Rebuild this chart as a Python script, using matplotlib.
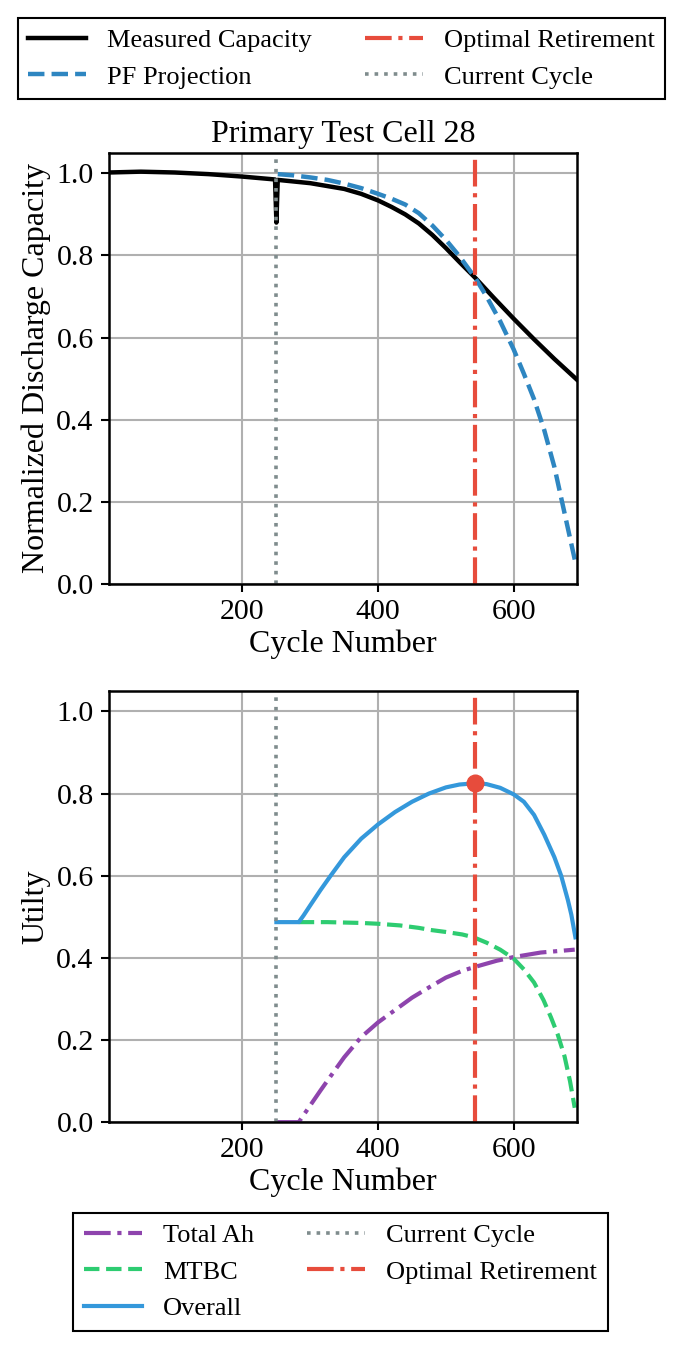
import matplotlib
matplotlib.use("Agg")
import matplotlib.pyplot as plt

plt.rcParams['font.family'] = ['Liberation Serif', 'DejaVu Serif']

# measured capacity (cycle, normalized capacity) - spike at the current cycle
meas_cycle = [3, 50, 100, 150, 200, 248, 250, 252, 300, 350, 375, 400, 420, 440,
              460, 480, 500, 520, 543, 570, 600, 630, 660, 693]
meas_cap = [1.002, 1.004, 1.002, 0.998, 0.992, 0.985, 0.88, 0.984, 0.976, 0.962,
            0.95, 0.934, 0.918, 0.90, 0.878, 0.85, 0.818, 0.784, 0.746, 0.698,
            0.646, 0.596, 0.548, 0.498]

# particle filter projection from the current cycle
pf_cycle = [252, 275, 300, 325, 350, 375, 400, 420, 440, 460, 480, 500, 520, 543,
            560, 580, 600, 615, 630, 645, 660, 670, 680, 692]
pf_cap = [0.998, 0.995, 0.99, 0.984, 0.975, 0.964, 0.95, 0.938, 0.924, 0.903,
          0.873, 0.838, 0.798, 0.746, 0.70, 0.64, 0.571, 0.512, 0.45, 0.375,
          0.285, 0.21, 0.135, 0.045]

# utilities
ah_cycle = [250, 283, 290, 300, 315, 330, 350, 375, 400, 425, 450, 475, 500, 525,
            543, 575, 600, 640, 690]
ah_util = [0.0, 0.0, 0.017, 0.041, 0.077, 0.112, 0.158, 0.207, 0.243, 0.273,
           0.303, 0.328, 0.352, 0.369, 0.378, 0.393, 0.402, 0.413, 0.42]

mtbc_cycle = [283, 325, 375, 400, 432, 460, 477, 500, 524, 541, 560, 580, 600,
              615, 630, 644, 655, 665, 675, 683, 690]
mtbc_util = [0.487, 0.487, 0.485, 0.483, 0.479, 0.473, 0.468, 0.463, 0.457, 0.45,
             0.437, 0.42, 0.398, 0.372, 0.34, 0.297, 0.255, 0.213, 0.16, 0.10,
             0.035]

overall_cycle = [250, 283, 290, 300, 315, 330, 350, 375, 400, 425, 450, 475, 500,
                 520, 543, 560, 580, 600, 615, 630, 645, 660, 670, 680, 685, 691]
overall_util = [0.487, 0.487, 0.503, 0.528, 0.565, 0.60, 0.645, 0.69, 0.725, 0.755,
                0.78, 0.80, 0.815, 0.822, 0.825, 0.823, 0.814, 0.798, 0.78, 0.748,
                0.70, 0.645, 0.60, 0.54, 0.505, 0.45]

current_cycle = 250
optimal_cycle = 543
optimal_util = 0.825

xlim = (3, 693)
yticks = [0.0, 0.2, 0.4, 0.6, 0.8, 1.0]
xticks = [200, 400, 600]

fig = plt.figure(figsize=(6.85, 13.52), dpi=100)
ax1 = fig.add_axes([0.159, 0.568, 0.683, 0.319])
ax2 = fig.add_axes([0.159, 0.170, 0.683, 0.319])

tick_fs = 21.5
label_fs = 23

# top: capacity
l_meas, = ax1.plot(meas_cycle, meas_cap, color='black', lw=3.2, label='Measured Capacity')
l_pf, = ax1.plot(pf_cycle, pf_cap, color='#2e86c1', lw=3.2, ls='--', label='PF Projection')
l_opt = ax1.axvline(optimal_cycle, color='#e74c3c', lw=3.0, ls='-.', label='Optimal Retirement')
l_cur = ax1.axvline(current_cycle, color='#7f8c8d', lw=2.6, ls=':', label='Current Cycle')
ax1.set_title('Primary Test Cell 28', fontsize=label_fs, pad=8)
ax1.set_ylabel('Normalized Discharge Capacity', fontsize=label_fs)

# bottom: utility
l_ah, = ax2.plot(ah_cycle, ah_util, color='#8e44ad', lw=3.0, ls='-.', label='Total Ah')
l_mtbc, = ax2.plot(mtbc_cycle, mtbc_util, color='#2ecc71', lw=3.0, ls='--', label='MTBC')
l_all, = ax2.plot(overall_cycle, overall_util, color='#3498db', lw=3.0, label='Overall')
l_cur2 = ax2.axvline(current_cycle, color='#7f8c8d', lw=2.6, ls=':', label='Current Cycle')
l_opt2 = ax2.axvline(optimal_cycle, color='#e74c3c', lw=3.0, ls='-.', label='Optimal Retirement')
ax2.plot([optimal_cycle], [optimal_util], 'o', color='#e74c3c', ms=12, zorder=5)
ax2.set_ylabel('Utilty', fontsize=label_fs)

for ax in (ax1, ax2):
    ax.set_xlim(*xlim)
    ax.set_ylim(0, 1.05)
    ax.set_xticks(xticks)
    ax.set_yticks(yticks)
    ax.set_xlabel('Cycle Number', fontsize=label_fs, labelpad=3)
    ax.tick_params(labelsize=tick_fs, width=1.5, length=6, pad=5)
    ax.grid(True, color='#b0b0b0', lw=1.5)
    ax.set_axisbelow(True)
    for s in ax.spines.values():
        s.set_linewidth(1.8)

leg1 = fig.legend(handles=[l_meas, l_pf, l_opt, l_cur], loc='upper center',
                  bbox_to_anchor=(0.4985, 0.9867), ncol=2, fontsize=19,
                  fancybox=False, edgecolor='black', framealpha=1,
                  handlelength=2.2, columnspacing=2.0, borderaxespad=0)
leg1.get_frame().set_linewidth(1.5)

leg2 = fig.legend(handles=[l_ah, l_mtbc, l_all, l_cur2, l_opt2], loc='upper center',
                  bbox_to_anchor=(0.497, 0.1028), ncol=2, fontsize=19,
                  fancybox=False, edgecolor='black', framealpha=1,
                  handlelength=2.2, columnspacing=2.0, borderaxespad=0)
leg2.get_frame().set_linewidth(1.5)

fig.savefig('out.png', dpi=100)
